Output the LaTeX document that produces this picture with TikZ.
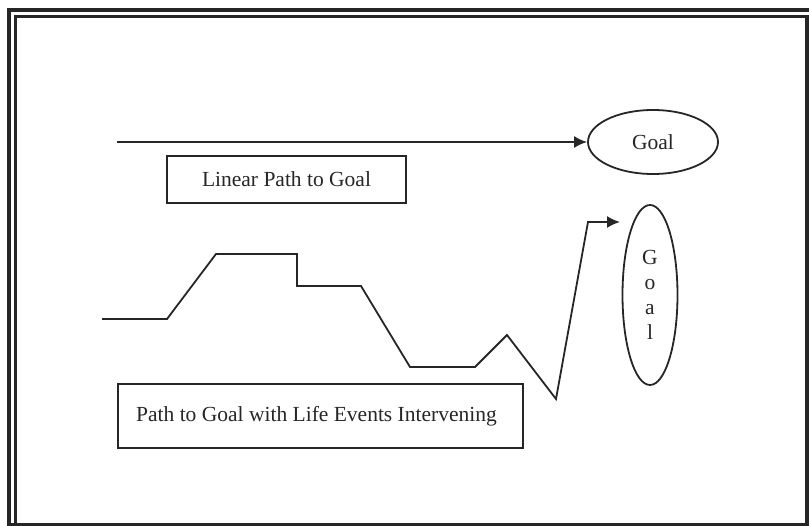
\documentclass[tikz,border=0pt]{standalone}
\usepackage{fontspec}
\setmainfont{Liberation Serif}
\usetikzlibrary{shapes.geometric,arrows.meta}
\tikzset{
  lbl/.style={font=\fontsize{21.5}{25}\selectfont, text=black!85},
  boxnode/.style={draw=black!85, line width=1.8pt, rectangle, inner sep=0pt, lbl},
  goalnode/.style={draw=black!85, line width=1.8pt, ellipse, inner sep=0pt, lbl},
  pathline/.style={draw=black!85, line width=1.8pt, line join=miter},
  arr/.style={-{Latex[length=13pt,width=12pt]}}
}
\begin{document}
\begin{tikzpicture}[x=1pt,y=-1pt]
\useasboundingbox (0,0) rectangle (809,526);
% frame
\draw[line width=3.5pt, black!85] (8.8,526) -- (8.8,10) -- (809,10);
\draw[line width=2.5pt, black!85] (15.3,526) -- (15.3,16.5) -- (809,16.5);
\draw[line width=4pt, black!85] (806.5,16.5) -- (806.5,524.5) -- (8.8,524.5);
% nodes
\node[goalnode, minimum width=130pt, minimum height=64pt] (goal1) at (653,142) {Goal};
\node[goalnode, minimum width=55pt, minimum height=180pt, align=center] (goal2) at (650,295) {G\\o\\a\\l};
\node[boxnode, minimum width=239pt, minimum height=47pt] (box1) at (286.5,179.5) {Linear Path to Goal};
\node[boxnode, minimum width=405pt, minimum height=64pt] (box2) at (320.5,416) {\hspace*{-8pt}Path to Goal with Life Events Intervening};
% connectors
\coordinate (s1) at (117,142);
\draw[pathline, arr] (s1) -- (goal1.west);
\coordinate (s2) at (102,319);
\coordinate (e2) at (620,222);
\draw[pathline, arr] (s2) -- (167,319) -- (216,254) -- (297,254) -- (297,286) -- (361,286)
  -- (410,367) -- (475,367) -- (507,335) -- (556,399) -- (588,222) -- (e2);
\end{tikzpicture}
\end{document}
